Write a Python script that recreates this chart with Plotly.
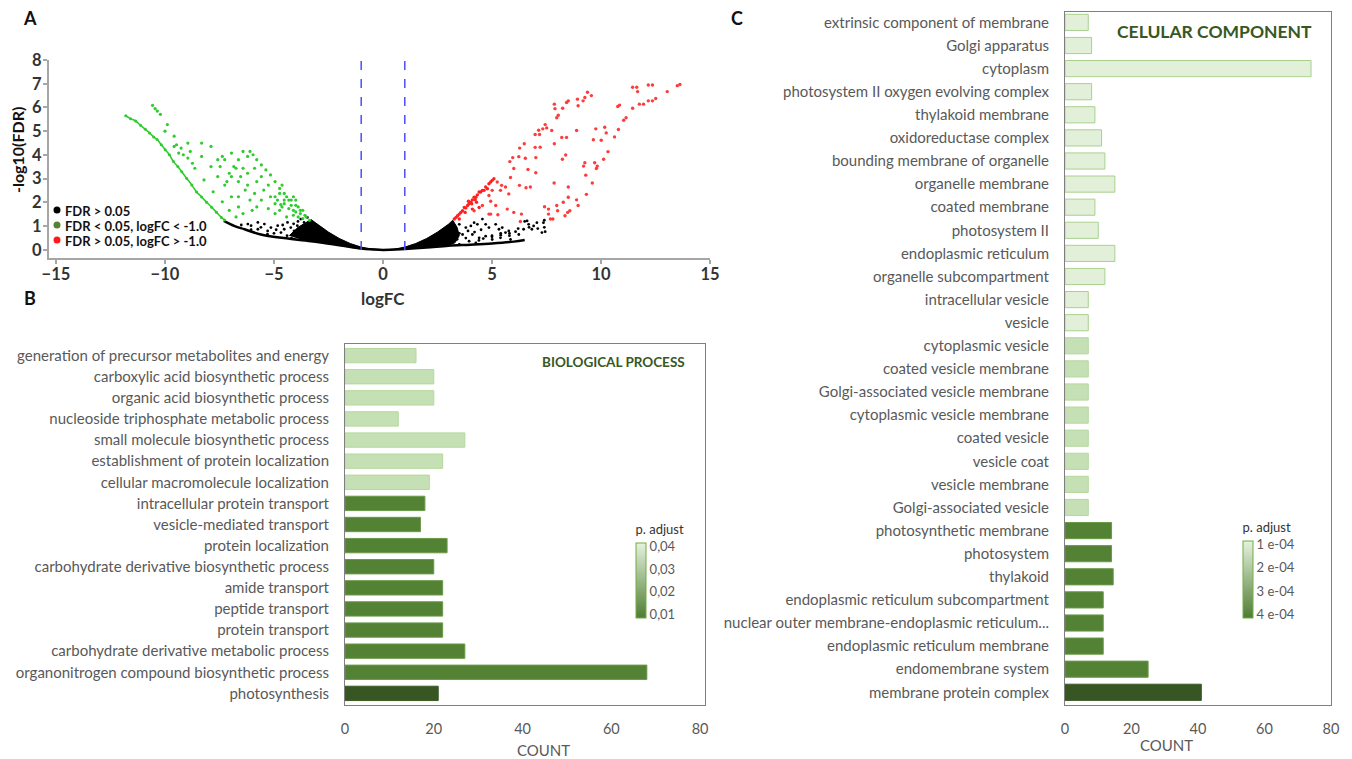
import plotly.graph_objects as go

# ---------------- data ----------------
# Volcano plot (logFC, -log10(FDR))
thresholds = [-1.0, 1.0]

green_streak = [(-11.8, 5.65), (-11.58, 5.53), (-11.35, 5.43), (-11.12, 5.25), (-10.9, 5.08),
                (-10.71, 4.93), (-10.52, 4.76), (-10.36, 4.65), (-10.17, 4.43), (-9.99, 4.22),
                (-9.8, 4.01), (-9.61, 3.72), (-9.41, 3.51), (-9.23, 3.29), (-9.0, 3.01),
                (-8.77, 2.73), (-8.55, 2.44), (-8.32, 2.23), (-8.09, 2.01), (-7.86, 1.8),
                (-7.64, 1.59), (-7.41, 1.37), (-7.26, 1.26)]

green_points = [(-10.57, 6.09), (-10.45, 5.95), (-10.35, 5.85), (-10.21, 5.71), (-9.89, 5.28),
                (-9.58, 4.79), (-9.26, 4.29), (-8.95, 3.87), (-8.63, 3.44), (-8.21, 2.95),
                (-7.79, 2.45), (-7.37, 2.03), (-7.05, 1.67), (-6.74, 1.39),
                (-8.95, 4.5), (-8.32, 3.94), (-7.89, 3.51), (-7.58, 3.09), (-7.26, 2.73),
                (-6.95, 2.24), (-6.63, 1.81), (-6.42, 1.53),
                (-8.32, 4.5), (-7.89, 4.36), (-7.37, 3.94), (-7.47, 3.51), (-7.05, 3.23),
                (-6.63, 2.88), (-7.16, 2.88), (-6.84, 3.51), (-7.58, 3.8),
                (-6.1, 4.15), (-5.96, 4.01), (-5.79, 3.8), (-5.58, 3.58), (-5.37, 3.37),
                (-5.16, 3.16), (-4.95, 2.88), (-4.74, 2.59), (-4.53, 2.38), (-4.21, 2.1),
                (-4.0, 1.88), (-3.79, 1.67), (-3.58, 1.46), (-3.37, 1.25),
                (-7.26, 3.8), (-6.74, 3.44), (-6.95, 3.09), (-6.42, 3.44), (-6.53, 3.09),
                (-6.21, 3.23), (-5.89, 3.44), (-6.21, 2.73), (-5.79, 2.88), (-5.47, 2.52),
                (-5.89, 2.38), (-5.16, 2.24), (-5.58, 2.1), (-4.95, 1.95), (-5.26, 1.74),
                (-4.74, 1.67), (-4.53, 2.1), (-4.32, 1.74), (-4.95, 1.53), (-4.11, 1.46),
                (-4.42, 1.39), (-3.89, 1.39), (-6.21, 3.94), (-6.63, 3.8), (-6.95, 4.08),
                (-6.42, 4.15), (-5.58, 3.09), (-5.26, 2.73), (-4.74, 2.38), (-4.63, 2.73),
                (-4.11, 2.24), (-5.79, 1.81), (-6.1, 2.1), (-6.0, 1.67), (-6.63, 2.24),
                (-6.32, 2.52),
                (-4.53, 1.95), (-4.32, 2.1), (-4.0, 2.1), (-3.89, 1.81), (-3.68, 1.67),
                (-3.79, 1.53), (-3.52, 1.39), (-4.11, 1.67), (-4.21, 1.88), (-4.63, 1.81),
                (-4.42, 2.24), (-4.95, 2.24), (-3.68, 1.32), (-4.0, 1.6), (-4.84, 2.1),
                (-4.69, 1.91),
                (-10.0, 5.0), (-9.58, 4.36), (-9.37, 4.08), (-9.47, 4.43), (-9.16, 4.01),
                (-8.74, 3.65), (-8.84, 4.15)]

red_points = [(13.5, 6.92), (13.62, 6.97), (13.04, 6.67), (12.36, 6.95), (12.17, 6.95),
              (11.64, 6.85), (11.45, 6.85), (11.68, 6.67), (12.51, 6.38), (12.36, 6.28),
              (12.17, 6.28), (11.95, 6.14), (11.76, 6.14), (11.45, 5.97), (10.85, 6.1),
              (10.77, 6.04), (11.15, 5.57), (11.04, 5.46), (10.8, 5.07), (10.62, 4.76),
              (10.32, 4.14), (10.12, 3.82), (10.17, 5.17), (10.24, 4.93), (9.76, 5.1),
              (10.01, 4.62), (9.65, 4.64), (9.83, 3.53), (9.79, 3.43), (9.71, 3.67),
              (9.26, 3.67), (9.2, 3.53), (9.3, 3.15), (9.6, 2.82), (9.33, 2.34),
              (8.88, 2.11), (8.95, 1.87), (9.56, 6.5), (9.38, 6.64), (9.26, 6.42),
              (9.18, 6.28), (8.95, 6.07), (8.92, 6.35), (8.5, 6.28), (8.42, 6.21),
              (8.24, 5.97), (7.97, 5.57), (8.04, 5.67), (7.89, 5.95), (7.86, 6.14),
              (7.44, 5.28), (7.33, 5.1), (7.51, 5.14), (7.14, 5.04), (7.18, 4.86),
              (6.98, 4.86), (7.74, 5.03), (8.2, 4.74), (8.42, 4.74), (8.88, 5.03),
              (7.86, 4.47), (7.21, 4.33), (6.98, 4.32), (6.48, 4.47), (6.27, 4.29),
              (6.23, 3.93), (5.95, 3.89), (5.82, 3.72), (6.0, 3.43), (6.53, 3.86),
              (7.01, 3.89), (6.65, 3.39), (7.01, 3.25), (8.38, 4.0), (8.23, 3.82),
              (5.85, 3.05), (6.26, 2.72), (6.56, 2.62), (6.76, 2.65), (5.62, 2.65),
              (5.77, 2.36), (5.44, 2.72), (5.24, 2.86), (5.39, 2.51), (5.01, 2.51),
              (4.86, 2.29), (4.94, 2.05), (5.17, 1.87), (4.94, 1.51), (5.27, 1.48),
              (5.7, 1.72), (6.0, 1.58), (6.35, 1.51), (6.3, 1.2), (7.41, 1.82),
              (7.59, 1.72), (7.97, 1.87), (8.01, 1.65), (8.27, 2.01), (7.85, 2.82),
              (8.5, 2.65), (8.5, 2.22), (8.47, 1.58), (8.35, 1.44), (8.57, 1.65),
              (7.79, 1.3), (7.68, 1.3), (7.59, 1.51),
              (4.18, 1.65), (4.56, 1.87), (4.86, 1.51)]

red_streak = [(3.27, 1.3), (3.35, 1.37), (3.42, 1.44), (3.5, 1.51), (3.57, 1.58), (3.65, 1.65),
              (3.73, 1.79), (3.8, 1.77), (3.88, 1.87), (3.95, 1.94), (4.03, 2.01), (4.1, 2.11),
              (4.18, 2.22), (4.26, 2.22), (4.33, 2.32), (4.41, 2.44), (4.48, 2.44), (4.56, 2.51),
              (4.64, 2.51), (4.71, 2.65), (4.79, 2.58), (4.86, 2.79), (4.94, 2.86), (5.01, 2.93),
              (5.09, 3.0), (3.92, 2.05), (4.07, 1.94), (4.23, 2.11), (4.29, 2.01), (3.77, 1.58),
              (3.5, 1.3), (4.1, 1.72), (4.41, 1.79)]

black_points = [(-6.2, 1.09), (-6.05, 1.02), (-5.74, 1.16), (-5.44, 1.09), (-5.14, 0.94),
                (-4.83, 1.02), (-4.53, 0.87), (-4.23, 0.94), (-3.93, 1.02), (-3.62, 1.16),
                (-3.32, 1.09), (-5.29, 0.8), (-4.68, 0.73), (-4.08, 0.8), (-3.47, 0.87),
                (-5.74, 0.87), (-6.05, 0.85), (-4.38, 1.16), (-3.77, 1.3), (-3.47, 1.37),
                (-5.0, 0.7), (-4.4, 0.6), (-3.9, 0.65), (-3.6, 0.75), (-4.9, 0.85),
                (-3.8, 0.55), (-3.5, 0.6), (-4.1, 1.1), (-3.9, 1.2), (-4.6, 1.05),
                (-5.6, 0.95), (-6.5, 1.05), (-3.4, 0.5), (-4.2, 0.5), (-5.3, 0.66),
                (3.5, 1.08), (3.8, 0.94), (4.03, 1.01), (4.18, 1.15), (4.33, 1.08),
                (4.56, 1.3), (4.71, 1.08), (4.86, 0.94), (5.17, 1.08), (5.32, 0.87),
                (5.47, 0.94), (5.62, 0.73), (5.77, 0.8), (6.23, 0.65), (6.61, 1.22),
                (6.68, 1.08), (6.83, 0.87), (7.06, 1.15), (7.29, 0.73), (4.1, 0.65),
                (4.41, 0.51), (4.71, 0.58), (5.01, 0.44), (3.95, 0.37), (3.65, 0.65),
                (3.35, 0.8), (3.2, 0.51), (3.04, 0.65), (2.89, 0.87), (3.12, 0.3),
                (3.5, 0.23), (4.26, 0.3), (5.39, 0.51), (5.85, 0.44), (3.3, 0.9),
                (3.5, 0.7), (3.8, 0.5), (3.4, 0.45), (3.9, 0.8), (4.2, 0.75),
                (4.5, 0.85), (4.4, 0.4), (5.0, 0.6), (5.4, 0.7), (5.8, 0.6),
                (6.2, 0.9), (6.5, 1.2), (6.7, 0.95), (7.1, 0.9), (7.4, 1.25),
                (7.4, 0.95), (4.6, 0.48), (5.0, 0.55), (5.4, 0.62), (5.8, 0.7),
                (6.08, 0.77), (6.45, 0.87), (6.91, 1.01), (7.36, 1.15), (7.44, 0.77)]

# dense non-significant core (outline of the solid black mass)
black_core = [(-4.3, 0.6), (-3.9, 0.95), (-3.3, 1.28), (-3.0, 1.08), (-2.5, 0.75), (-2.0, 0.48),
              (-1.5, 0.27), (-1.0, 0.12), (-0.5, 0.03), (0.0, 0.0), (0.5, 0.03), (1.0, 0.12),
              (1.5, 0.27), (2.0, 0.48), (2.5, 0.75), (3.0, 1.08), (3.2, 1.25), (3.4, 0.95),
              (3.5, 0.6), (3.3, 0.3), (3.0, 0.2), (2.0, 0.12), (1.0, 0.04), (0.0, -0.02),
              (-1.0, 0.04), (-2.0, 0.18), (-3.0, 0.32), (-3.8, 0.45)]

black_lower_left = [(-7.3, 1.22), (-6.8, 1.0), (-6.35, 0.87), (-5.6, 0.65), (-4.55, 0.5),
                    (-3.3, 0.37), (-2.0, 0.2), (-1.0, 0.06), (0.0, 0.0)]
black_lower_right = [(0.0, 0.0), (1.0, 0.04), (2.0, 0.1), (3.0, 0.18), (4.0, 0.22),
                     (5.0, 0.27), (6.0, 0.35), (6.5, 0.42)]

legend_labels = ["FDR > 0.05", "FDR < 0.05, logFC < -1.0", "FDR > 0.05, logFC > -1.0"]
volcano_xticks = [-15, -10, -5, 0, 5, 10, 15]

# Biological process
bp_terms = ["generation of precursor metabolites and energy", "carboxylic acid biosynthetic process",
            "organic acid biosynthetic process", "nucleoside triphosphate metabolic process",
            "small molecule biosynthetic process", "establishment of protein localization",
            "cellular macromolecule localization", "intracellular protein transport",
            "vesicle-mediated transport", "protein localization",
            "carbohydrate derivative biosynthetic process", "amide transport", "peptide transport",
            "protein transport", "carbohydrate derivative metabolic process",
            "organonitrogen compound biosynthetic process", "photosynthesis"]
bp_counts = [16, 20, 20, 12, 27, 22, 19, 18, 17, 23, 20, 22, 22, 22, 27, 68, 21]
bp_level = ["light"] * 7 + ["mid"] * 9 + ["dark"]
bp_ticks = [0.01, 0.02, 0.03, 0.04]
bp_ticktext = ["0,01", "0,02", "0,03", "0,04"]

# Cellular component
cc_terms = ["extrinsic component of membrane", "Golgi apparatus", "cytoplasm",
            "photosystem II oxygen evolving complex", "thylakoid membrane", "oxidoreductase complex",
            "bounding membrane of organelle", "organelle membrane", "coated membrane",
            "photosystem II", "endoplasmic reticulum", "organelle subcompartment",
            "intracellular vesicle", "vesicle", "cytoplasmic vesicle", "coated vesicle membrane",
            "Golgi-associated vesicle membrane", "cytoplasmic vesicle membrane", "coated vesicle",
            "vesicle coat", "vesicle membrane", "Golgi-associated vesicle",
            "photosynthetic membrane", "photosystem", "thylakoid",
            "endoplasmic reticulum subcompartment", "nuclear outer membrane-endoplasmic reticulum...",
            "endoplasmic reticulum membrane", "endomembrane system", "membrane protein complex"]
cc_counts = [7, 8, 74, 8, 9, 11, 12, 15, 9, 10, 15, 12, 7, 7, 7, 7, 7, 7, 7, 7, 7, 7,
             14, 14, 14.5, 11.5, 11.5, 11.5, 25, 41]
cc_level = ["pale"] * 14 + ["light"] * 8 + ["mid"] * 7 + ["dark"]
cc_ticks = [1e-4, 2e-4, 3e-4, 4e-4]
cc_ticktext = ["1 e-04", "2 e-04", "3 e-04", "4 e-04"]

# ---------------- styling ----------------
OFF = 8                      # page body margin
W, H = 1352 - OFF, 759 - OFF
def px(x): return (x - OFF) / W
def py(y): return 1 - (y - OFF) / H

FILL = {"pale": "#e2efd9", "light": "#c5e0b4", "mid": "#548235", "dark": "#375623"}
EDGE = {"pale": "#a9d18e", "light": "#b4d89c", "mid": "#6a9a48", "dark": "#3a5a25"}
FONT = "Lato"
GREY = "#595959"
CSCALE = [[0, "#4f7d32"], [1, "#e6f2de"]]

def xs(pts): return [p[0] for p in pts]
def ys(pts): return [p[1] for p in pts]

def make_colorbar(x0, y0, ticks, ticktext, length):
    return dict(x=px(x0), xanchor="left", y=py(y0), yanchor="top",
                len=length, lenmode="pixels", thickness=10,
                xpad=0, ypad=0, outlinecolor="#70ad47", outlinewidth=1,
                tickvals=ticks, ticktext=ticktext, ticks="",
                tickfont=dict(family=FONT, size=13, color=GREY),
                title=dict(text="p. adjust", side="top", font=dict(family=FONT, size=13, color="#333")))

fig = go.Figure()

# volcano
fig.add_trace(go.Scatter(x=xs(black_core), y=ys(black_core), fill="toself", fillcolor="black",
                         mode="lines", line=dict(color="black", width=1), xaxis="x", yaxis="y",
                         hoverinfo="skip"))
for seg in (black_lower_left, black_lower_right):
    fig.add_trace(go.Scatter(x=xs(seg), y=ys(seg), mode="lines",
                             line=dict(color="black", width=2.5, shape="spline"),
                             xaxis="x", yaxis="y", hoverinfo="skip"))
fig.add_trace(go.Scatter(x=xs(black_points), y=ys(black_points), mode="markers",
                         marker=dict(color="black", size=2.8), xaxis="x", yaxis="y"))
fig.add_trace(go.Scatter(x=xs(green_streak), y=ys(green_streak), mode="lines+markers",
                         line=dict(color="#2ecc2e", width=1.6, shape="spline"),
                         marker=dict(color="#2ecc2e", size=3), xaxis="x", yaxis="y"))
fig.add_trace(go.Scatter(x=xs(green_points), y=ys(green_points), mode="markers",
                         marker=dict(color="#2ecc2e", size=3.2), xaxis="x", yaxis="y"))
fig.add_trace(go.Scatter(x=xs(red_streak), y=ys(red_streak), mode="markers",
                         marker=dict(color="#ff2020", size=3.4), xaxis="x", yaxis="y"))
fig.add_trace(go.Scatter(x=xs(red_points), y=ys(red_points), mode="markers",
                         marker=dict(color="#ff3b3b", size=3.4), xaxis="x", yaxis="y"))

# BP bars
fig.add_trace(go.Bar(orientation="h", x=bp_counts, y=bp_terms, width=0.68,
                     marker=dict(color=[FILL[l] for l in bp_level],
                                 line=dict(color=[EDGE[l] for l in bp_level], width=1)),
                     xaxis="x2", yaxis="y2"))
bp_pad = 0.05 * (bp_ticks[-1] - bp_ticks[0])
bp_bar = make_colorbar(636, 522, bp_ticks, bp_ticktext, 96)
fig.add_trace(go.Scatter(x=[0], y=[bp_terms[0]], mode="markers", xaxis="x2", yaxis="y2",
                         hoverinfo="skip",
                         marker=dict(size=1, opacity=0, color=[bp_ticks[-1]], cmin=bp_ticks[0] - bp_pad,
                                     cmax=bp_ticks[-1] + bp_pad, colorscale=CSCALE, showscale=True,
                                     colorbar=bp_bar)))

# CC bars
fig.add_trace(go.Bar(orientation="h", x=cc_counts, y=cc_terms, width=0.7,
                     marker=dict(color=[FILL[l] for l in cc_level],
                                 line=dict(color=[EDGE[l] for l in cc_level], width=1)),
                     xaxis="x3", yaxis="y3"))
cc_lo, cc_hi = cc_ticks[0], cc_ticks[-1]
cc_pad = 0.05 * (cc_hi - cc_lo)
cc_bar = make_colorbar(1243, 520, [cc_lo + cc_hi - t for t in cc_ticks], cc_ticktext, 98)
fig.add_trace(go.Scatter(x=[0], y=[cc_terms[0]], mode="markers", xaxis="x3", yaxis="y3",
                         hoverinfo="skip",
                         marker=dict(size=1, opacity=0, color=[cc_lo], cmin=cc_lo - cc_pad,
                                     cmax=cc_hi + cc_pad, colorscale=CSCALE, showscale=True,
                                     colorbar=cc_bar)))

axis_grey = "#a6a6a6"
box_grey = "#7f7f7f"
vol_axis = dict(showline=True, linecolor=axis_grey, linewidth=2, ticks="outside", tickcolor=axis_grey,
                tickwidth=2, ticklen=4, showgrid=False, zeroline=False, automargin=False,
                tickfont=dict(family=FONT, size=16.5, color="#333", weight="bold"))
bar_x = dict(showline=True, mirror=True, linecolor=box_grey, linewidth=1, ticks="", showgrid=False,
             zeroline=False, ticklabelstandoff=11, automargin=False,
             tickfont=dict(family=FONT, size=14.5, color=GREY))
bar_y = dict(type="category", categoryorder="array", showline=True, mirror=True, automargin=False,
             linecolor=box_grey, linewidth=1, ticks="", showgrid=False, ticklabelstandoff=12,
             tickfont=dict(family=FONT, size=15, color=GREY))

fig.update_layout(
    template="none",
    width=W, height=H, margin=dict(l=0, r=0, t=0, b=0, autoexpand=False), showlegend=False,
    paper_bgcolor="white", plot_bgcolor="white",
    font=dict(family=FONT),
    xaxis=dict(domain=[px(49), px(710)], range=[-15.32, 15], anchor="y", tickvals=volcano_xticks,
               ticklabelstandoff=-4, **vol_axis),
    yaxis=dict(domain=[py(258), py(60)], range=[-0.34, 8], anchor="x", dtick=1,
               ticklabelstandoff=-2, **vol_axis),
    xaxis2=dict(domain=[px(345), px(705)], range=[0, 81.1], anchor="y2", tickvals=[0, 20, 40, 60, 80], **bar_x),
    yaxis2=dict(domain=[py(705), py(344)], anchor="x2", categoryarray=bp_terms, range=[16.55, -0.55], **bar_y),
    xaxis3=dict(domain=[px(1065), px(1331)], range=[0, 80], anchor="y3", tickvals=[0, 20, 40, 60, 80], **bar_x),
    yaxis3=dict(domain=[py(705), py(12)], anchor="x3", categoryarray=cc_terms, range=[29.55, -0.45], **bar_y),
)

for t in thresholds:
    fig.add_shape(type="line", xref="x", yref="y", x0=t, x1=t, y0=0, y1=8,
                  line=dict(color="#4d4dff", width=1.5, dash="dash"))

# legend of volcano plot
leg_colors = ["black", "#548235", "#ff1a1a"]
leg_y = [211, 226, 241]
for lab, c, yy in zip(legend_labels, leg_colors, leg_y):
    fig.add_shape(type="circle", xref="paper", yref="paper", x0=px(53.5), x1=px(60.5),
                  y0=py(yy - 4.5), y1=py(yy + 2.5), fillcolor=c, line=dict(width=0))
    fig.add_annotation(x=px(63), y=py(yy), xref="paper", yref="paper", xanchor="left", yanchor="middle",
                       text="<b>" + lab + "</b>", showarrow=False,
                       font=dict(family=FONT, size=13, color="#111"))

ann = [
    dict(text="<b>A</b>", x=30, y=18, size=18, color="#111"),
    dict(text="<b>B</b>", x=30, y=298, size=18, color="#111"),
    dict(text="<b>C</b>", x=737, y=18, size=18, color="#111"),
    dict(text="<b>logFC</b>", x=383, y=298, size=17, color="#333"),
    dict(text="COUNT", x=543, y=750, size=15, color=GREY),
    dict(text="COUNT", x=1166, y=745, size=15, color=GREY),
    dict(text="<b>BIOLOGICAL PROCESS</b>", x=613, y=362, size=13.5, color="#385723"),
    dict(text="<b>CELULAR COMPONENT</b>", x=1214, y=32, size=17.5, color="#385723"),
]
for a in ann:
    fig.add_annotation(x=px(a["x"]), y=py(a["y"]), xref="paper", yref="paper", text=a["text"],
                       showarrow=False, xanchor="center", yanchor="middle",
                       font=dict(family=FONT, size=a["size"], color=a["color"]))
fig.add_annotation(x=px(17), y=py(150), xref="paper", yref="paper", text="<b>-log10(FDR)</b>",
                   showarrow=False, textangle=-90, xanchor="center", yanchor="middle",
                   font=dict(family=FONT, size=16, color="#111"))

fig.write_html("out.html")
